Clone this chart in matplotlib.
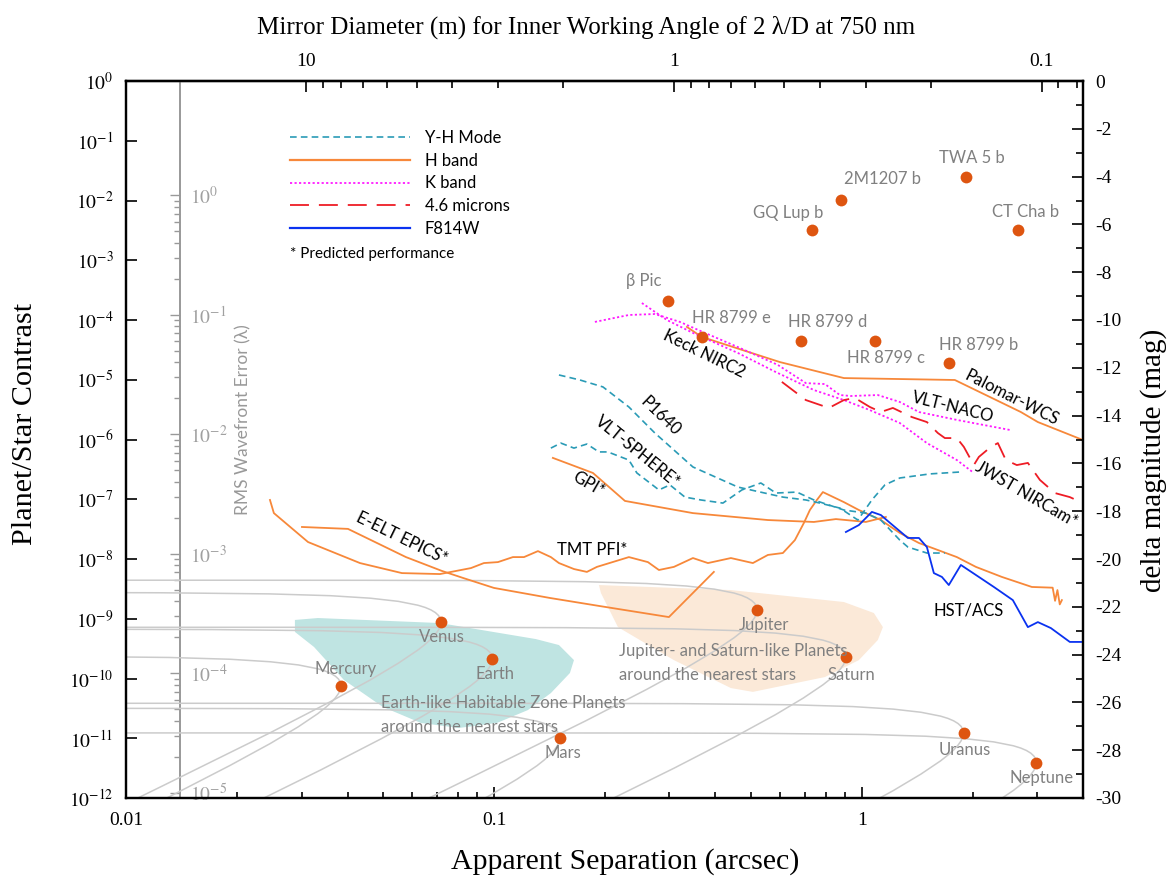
import numpy as np
import matplotlib.pyplot as plt
from matplotlib.lines import Line2D
from matplotlib.ticker import FixedLocator, NullLocator, NullFormatter

plt.rcParams['font.family'] = ['Liberation Serif', 'DejaVu Serif']
plt.rcParams['mathtext.fontset'] = 'stix'
SANS = ['Lato', 'DejaVu Sans']

# ---------------- data (separation in arcsec, contrast read as delta mag) ----------------
ss_names = ['Mercury', 'Venus', 'Earth', 'Mars', 'Jupiter', 'Saturn', 'Uranus', 'Neptune']
ss_sep = [0.0384, 0.0718, 0.0990, 0.151, 0.519, 0.905, 1.89, 2.98]
ss_dmag = [-25.30, -22.64, -24.18, -27.49, -22.13, -24.10, -27.28, -28.52]

exo_names = ['β Pic', 'HR 8799 e', 'HR 8799 d', 'HR 8799 c', 'HR 8799 b',
             'GQ Lup b', '2M1207 b', 'TWA 5 b', 'CT Cha b']
exo_sep = [0.297, 0.367, 0.685, 1.085, 1.72, 0.733, 0.877, 1.92, 2.65]
exo_dmag = [-9.21, -10.71, -10.87, -10.88, -11.79, -6.23, -4.98, -4.02, -6.23]

# shape of the grey orbit tracks, relative to each planet's point (log10 sep, delta mag)
track_dlogsep = [-2.6, -1.457, -1.060, -0.760, -0.466, -0.301, -0.192, -0.116, -0.0625,
                 -0.0427, -0.027, -0.0151, -0.0067, -0.0017, 0.0, -0.0017, -0.0067,
                 -0.0151, -0.027, -0.0427, -0.0625, -0.116, -0.192, -0.301, -0.466,
                 -0.760, -1.060, -1.457, -2.059]
track_ddmag = [1.243, 1.242, 1.239, 1.227, 1.180, 1.105, 1.000, 0.868, 0.705, 0.611,
               0.508, 0.396, 0.275, 0.143, 0.0, -0.155, -0.325, -0.507, -0.708, -0.924,
               -1.165, -1.720, -2.418, -3.333, -4.643, -6.878, -9.138, -12.12, -16.64]

# H band
palomar_sep = [0.3345, 0.3674, 0.5986, 0.8935, 1.789, 2.704, 3.008, 3.986, 4.72]
palomar_dmag = [-10.29, -10.71, -11.76, -12.43, -12.51, -13.85, -14.27, -15.02, -15.48]

gpi_sep = [0.1446, 0.1858, 0.227, 0.3474, 0.5554, 0.7404, 0.850, 1.025, 1.162]
gpi_dmag = [-15.77, -16.40, -17.57, -18.08, -18.37, -18.45, -18.33, -18.45, -18.24]

eelt_sep = [0.03008, 0.04011, 0.05766, 0.07223, 0.0823, 0.1000, 0.1419, 0.1941, 0.2989, 0.396]
eelt_dmag = [-18.66, -18.74, -19.92, -20.50, -20.79, -21.21, -21.63, -21.97, -22.43, -20.54]

tmt_sep = [0.02462, 0.02523, 0.03124, 0.04324, 0.05623, 0.07134, 0.0866, 0.0939, 0.1025,
           0.1126, 0.1207, 0.1317, 0.1428, 0.1502, 0.165, 0.1789, 0.1905, 0.2327, 0.2621,
           0.2808, 0.3084, 0.3474, 0.3816, 0.4406, 0.5055, 0.5554, 0.6099, 0.6575, 0.6957,
           0.7223, 0.7546, 0.7834, 0.8935, 0.9813, 1.1261, 1.268, 1.429, 1.812, 2.041,
           2.401, 2.897, 3.30, 3.35, 3.40, 3.45, 3.496]
tmt_dmag = [-17.53, -18.08, -19.29, -20.17, -20.59, -20.63, -20.38, -20.17, -20.13,
            -19.92, -19.92, -19.67, -19.92, -20.17, -20.42, -20.54, -20.33, -19.92, -20.13,
            -20.46, -20.33, -19.96, -20.17, -19.96, -20.17, -19.83, -19.75, -19.21, -18.49,
            -17.95, -17.53, -17.20, -17.62, -17.95, -18.37, -18.91, -19.33, -19.92, -20.33,
            -20.75, -21.17, -21.20, -21.75, -21.30, -21.90, -21.72]

# Y-H mode
p1640_sep = [0.1502, 0.1713, 0.1978, 0.2327, 0.2738, 0.3474, 0.4603, 0.6099, 0.7043,
             0.7688, 0.8715, 0.9752, 1.0646, 1.155, 1.268, 1.530, 1.846]
p1640_dmag = [-12.30, -12.51, -12.80, -13.64, -14.73, -16.15, -16.99, -17.41, -17.53,
              -17.66, -17.87, -18.37, -17.53, -16.90, -16.61, -16.44, -16.36]

sphere_sep = [0.1428, 0.152, 0.165, 0.1789, 0.1929, 0.204, 0.2327, 0.2446, 0.2808, 0.3008,
              0.3304, 0.365, 0.4191, 0.472, 0.5314, 0.5839, 0.6657, 0.7404, 0.8935, 1.025,
              1.1261, 1.268, 1.3335, 1.502, 1.681]
sphere_dmag = [-15.36, -15.15, -15.36, -15.19, -15.52, -15.52, -15.86, -16.40, -17.11, -16.90,
               -17.41, -17.53, -17.66, -17.11, -16.82, -17.24, -17.20, -17.53, -17.95, -18.08,
               -18.37, -19.21, -19.50, -19.75, -19.75]

# K band
naco_sep = [0.1881, 0.2327, 0.2738, 0.3202, 0.3745, 0.4661, 0.591, 0.7043, 0.7934, 0.8715,
            0.9335, 1.105, 1.268, 1.429, 1.812, 2.524]
naco_dmag = [-10.08, -9.79, -9.75, -10.08, -10.54, -11.17, -11.88, -12.64, -12.68, -13.14,
             -13.18, -13.14, -13.43, -13.85, -14.18, -14.60]

keck_sep = [0.2524, 0.2952, 0.3474, 0.4603, 0.5839, 0.7404, 0.8935, 1.0513, 1.268, 1.502,
            1.812, 2.015]
keck_dmag = [-9.29, -10.00, -10.54, -11.38, -12.18, -12.93, -13.35, -13.77, -14.31, -15.15,
             -15.86, -16.40]

# 4.6 microns
jwst_sep = [0.6061, 0.7043, 0.8135, 0.8935, 0.957, 1.0513, 1.1261, 1.214, 1.367, 1.502,
            1.609, 1.681, 1.812, 1.893, 2.015, 2.079, 2.241, 2.342, 2.462, 2.637, 2.826,
            3.046, 3.346, 3.674, 3.937]
jwst_dmag = [-12.59, -13.35, -13.68, -13.35, -13.26, -13.64, -13.85, -13.68, -14.06, -14.27,
             -14.73, -14.94, -14.94, -15.31, -16.07, -15.73, -15.31, -15.15, -15.86, -16.07,
             -15.98, -16.69, -17.24, -17.41, -17.62]

# F814W
acs_sep = [0.9048, 0.9813, 1.0646, 1.1261, 1.1842, 1.3335, 1.429, 1.502, 1.569, 1.650,
           1.723, 1.858, 2.079, 2.284, 2.572, 2.826, 3.008, 3.263, 3.674, 3.986]
acs_dmag = [-18.87, -18.58, -18.03, -18.16, -18.45, -19.12, -19.12, -19.50, -20.59, -20.75,
            -21.09, -20.25, -20.75, -21.17, -21.72, -22.85, -22.64, -22.89, -23.47, -23.47]

# shaded planet regions
hz_sep = [0.02878, 0.03323, 0.07134, 0.1300, 0.1502, 0.1650, 0.1609, 0.1428, 0.1237,
          0.1019, 0.0803, 0.0633, 0.0499, 0.0391, 0.03243, 0.02878]
hz_dmag = [-22.55, -22.47, -22.68, -23.35, -23.60, -24.23, -24.77, -25.61, -26.32,
           -26.86, -27.07, -26.86, -26.19, -25.06, -23.68, -23.05]

giant_sep = [0.1929, 0.4406, 0.8935, 1.078, 1.1405, 1.105, 0.9813, 0.7934, 0.5055, 0.4406,
             0.3084, 0.2173, 0.1953]
giant_dmag = [-21.09, -21.30, -21.80, -22.26, -22.85, -23.39, -24.23, -24.94, -25.56, -25.40,
              -24.23, -22.85, -21.42]


def contrast(dmag):
    return 10 ** (np.asarray(dmag) / 2.5)


# ---------------- figure ----------------
W, H = 1171, 877
L, R, T, B = 126, 1083, 81, 798
fig = plt.figure(figsize=(W / 100, H / 100), dpi=100)
ax = fig.add_axes([L / W, (H - B) / H, (R - L) / W, (B - T) / H])
ax.set_xscale('log')
ax.set_yscale('log')
ax.set_xlim(0.01, 3.99)
ax.set_ylim(1e-12, 1)


def fx(px):
    return (px - L) / (R - L)


def fy(py):
    return (B - py) / (B - T)


ORANGE = '#f7883a'
TEAL = '#2a9bb6'
MAGENTA = '#ff1aff'
RED = '#ee1c25'
BLUE = '#0a32f0'
DOT = '#de5510'
GREYTXT = '#808080'

# shaded regions
ax.fill(hz_sep, contrast(hz_dmag), color='#bfe4e2', lw=0, zorder=1)
ax.fill(giant_sep, contrast(giant_dmag), color='#fbe9d8', lw=0, zorder=1)

# orbit tracks
for s, m in zip(ss_sep, ss_dmag):
    ax.plot(s * 10 ** np.array(track_dlogsep), contrast(m + np.array(track_ddmag)),
            color='#cbcbcb', lw=1.1, zorder=2, solid_capstyle='butt')

# instrument curves
for s, m in [(palomar_sep, palomar_dmag), (gpi_sep, gpi_dmag), (eelt_sep, eelt_dmag),
             (tmt_sep, tmt_dmag)]:
    ax.plot(s, contrast(m), color=ORANGE, lw=1.3, zorder=3)
for s, m in [(p1640_sep, p1640_dmag), (sphere_sep, sphere_dmag)]:
    ax.plot(s, contrast(m), color=TEAL, lw=1.2, dashes=(4, 2.5), zorder=3)
for s, m in [(naco_sep, naco_dmag), (keck_sep, keck_dmag)]:
    ax.plot(s, contrast(m), color=MAGENTA, lw=1.3, dashes=(1.2, 1.3), zorder=3)
ax.plot(jwst_sep, contrast(jwst_dmag), color=RED, lw=1.3, dashes=(10.5, 5.5), zorder=3)
ax.plot(acs_sep, contrast(acs_dmag), color=BLUE, lw=1.3, zorder=3)

# planets
ax.plot(ss_sep, contrast(ss_dmag), 'o', color=DOT, ms=8.5, mec='none', zorder=5)
ax.plot(exo_sep, contrast(exo_dmag), 'o', color=DOT, ms=8.5, mec='none', zorder=5)

lab_pos = {'Mercury': (346, 669), 'Venus': (442, 637), 'Earth': (495, 674),
           'Mars': (563, 753), 'Jupiter': (764, 625), 'Saturn': (851, 675),
           'Uranus': (965, 750), 'Neptune': (1042, 778),
           'β Pic': (644, 281), 'HR 8799 e': (731, 318), 'HR 8799 d': (828, 322),
           'HR 8799 c': (886, 358), 'HR 8799 b': (979, 345), 'GQ Lup b': (788, 213),
           '2M1207 b': (882, 179), 'TWA 5 b': (972, 158), 'CT Cha b': (1026, 212)}
for name, (px, py) in lab_pos.items():
    ax.text(fx(px), fy(py), name, transform=ax.transAxes, ha='center', va='center',
            color=GREYTXT, fontsize=12, family=SANS, zorder=6)

for txt, px, py in [('Earth-like Habitable Zone Planets', 381, 703),
                    ('around the nearest stars', 381, 727),
                    ('Jupiter- and Saturn-like Planets', 619, 651),
                    ('around the nearest stars', 619, 675)]:
    ax.text(fx(px), fy(py), txt, transform=ax.transAxes, ha='left', va='center',
            color=GREYTXT, fontsize=12, family=SANS, zorder=6)

for txt, px, py, rot in [('Keck NIRC2', 704, 354, -26), ('Palomar-WCS', 1012, 398, -27),
                         ('VLT-NACO', 953, 407, -14), ('JWST NIRCam*', 1026, 494, -30),
                         ('P1640', 660, 416, -44), ('VLT-SPHERE*', 638, 452, -39),
                         ('GPI*', 588, 484, -30), ('E-ELT EPICS*', 402, 538, -26),
                         ('TMT PFI*', 592, 550, 0), ('HST/ACS', 969, 610, 0)]:
    ax.text(fx(px), fy(py), txt, transform=ax.transAxes, ha='center', va='center',
            rotation=rot, rotation_mode='anchor', color='black', fontsize=12,
            family=SANS, zorder=6)

ax.text(fx(243), fy(420), 'RMS Wavefront Error (λ)', transform=ax.transAxes,
        rotation=90, ha='center', va='center', color='#999999', fontsize=12.5, family=SANS)

# legend
handles = [Line2D([], [], color=TEAL, lw=1.2, dashes=(4, 2.5)),
           Line2D([], [], color=ORANGE, lw=1.6),
           Line2D([], [], color=MAGENTA, lw=1.3, dashes=(1.2, 1.3)),
           Line2D([], [], color=RED, lw=1.3, dashes=(10.5, 5.5)),
           Line2D([], [], color=BLUE, lw=1.6)]
leg = ax.legend(handles, ['Y-H Mode', 'H band', 'K band', '4.6 microns', 'F814W'],
                loc='upper left', bbox_to_anchor=(fx(290), fy(130)), frameon=False,
                borderpad=0, borderaxespad=0, handlelength=7.2, handletextpad=0.9,
                labelspacing=0.4, prop={'family': SANS, 'size': 12})
ax.text(fx(290), fy(254), '* Predicted performance', transform=ax.transAxes,
        ha='left', va='center', fontsize=11, family=SANS)

# ---------------- axes ----------------
for sp in ax.spines.values():
    sp.set_linewidth(1.6)
ax.tick_params(which='both', direction='in', top=False, right=False, width=1.2,
               labelsize=14)
ax.tick_params(which='major', length=8)
ax.tick_params(which='minor', length=4)
ax.tick_params(axis='y', pad=9)
ax.tick_params(axis='x', pad=10)

ax.yaxis.set_major_locator(FixedLocator([10.0 ** e for e in range(-12, 1)]))
ax.yaxis.set_minor_locator(NullLocator())
ax.set_yticklabels([r'$10^{%d}$' % e for e in range(-12, 1)])
ax.xaxis.set_major_locator(FixedLocator([0.01, 0.1, 1]))
ax.set_xticklabels(['0.01', '0.1', '1'])
ax.xaxis.set_minor_locator(FixedLocator([k * 10.0 ** e for e in (-2, -1, 0) for k in range(2, 10)
                                         if k * 10.0 ** e < 3.99]))
ax.xaxis.set_minor_formatter(NullFormatter())

ax.set_xlabel('Apparent Separation (arcsec)', fontsize=21.5, labelpad=14)
ax.xaxis.label.set_x(fx(625))
ax.set_ylabel('Planet/Star Contrast', fontsize=21.7, labelpad=22)
ax.yaxis.label.set_y(fy(424))

# right: delta magnitude (2.5 log10 of the contrast, linear on this axis)
rax = ax.twinx()
rax.set_ylim(-30, 0)
rax.set_yticks(list(range(-30, 1, 2)), [str(v) for v in range(-30, 1, 2)])
rax.yaxis.set_minor_locator(FixedLocator(list(range(-29, 0, 2))))
rax.yaxis.set_minor_formatter(NullFormatter())
rax.tick_params(which='both', direction='in', width=1.2, labelsize=14, pad=9)
rax.tick_params(which='major', length=8)
rax.tick_params(which='minor', length=5)
for sp in rax.spines.values():
    sp.set_linewidth(1.6)
rax.set_ylabel('delta magnitude (mag)', fontsize=21, labelpad=13)
rax.yaxis.label.set_y(fy(460))

# top: mirror diameter
tax = ax.secondary_xaxis('top', functions=(lambda s: 0.308 / np.clip(s, 1e-300, None),
                                           lambda d: 0.308 / np.clip(d, 1e-300, None)))
tax.set_xticks([10, 1, 0.1], ['10', '1', '0.1'])
tax.xaxis.set_minor_locator(FixedLocator([k * 10.0 ** e for e in (0, -1) for k in range(2, 10)]
                                         + [0.09, 0.08]))
tax.xaxis.set_minor_formatter(NullFormatter())
tax.tick_params(which='both', direction='in', width=1.2, labelsize=14, pad=8)
tax.tick_params(which='major', length=8)
tax.tick_params(which='minor', length=5)
tax.spines['top'].set_linewidth(1.6)
tax.set_xlabel('Mirror Diameter (m) for Inner Working Angle of 2 λ/D at 750 nm',
               fontsize=18, labelpad=14)
tax.xaxis.label.set_x(fx(586))

# grey axis: RMS wavefront error
gax = ax.secondary_yaxis(fx(180), functions=(lambda c: np.sqrt(np.clip(c, 0, None) / 0.0123),
                                             lambda w: 0.0123 * np.asarray(w) ** 2))
gax.set_yticks([1, 0.1, 0.01, 1e-3, 1e-4, 1e-5],
               [r'$10^{0}$', r'$10^{-1}$', r'$10^{-2}$', r'$10^{-3}$', r'$10^{-4}$', r'$10^{-5}$'])
gax.yaxis.set_minor_locator(FixedLocator([k * 10.0 ** e for e in range(-5, 0) for k in range(2, 10)]))
gax.yaxis.set_minor_formatter(NullFormatter())
for sp in gax.spines.values():
    sp.set_color('#999999')
    sp.set_linewidth(1.4)
gax.tick_params(which='both', left=True, right=False, labelleft=False, labelright=True,
                direction='out', color='#999999', labelcolor='#a0a0a0', width=1.0,
                labelsize=14, pad=0)
gax.tick_params(which='major', length=7)
gax.tick_params(which='minor', length=4)

fig.savefig('out.png', dpi=100)
